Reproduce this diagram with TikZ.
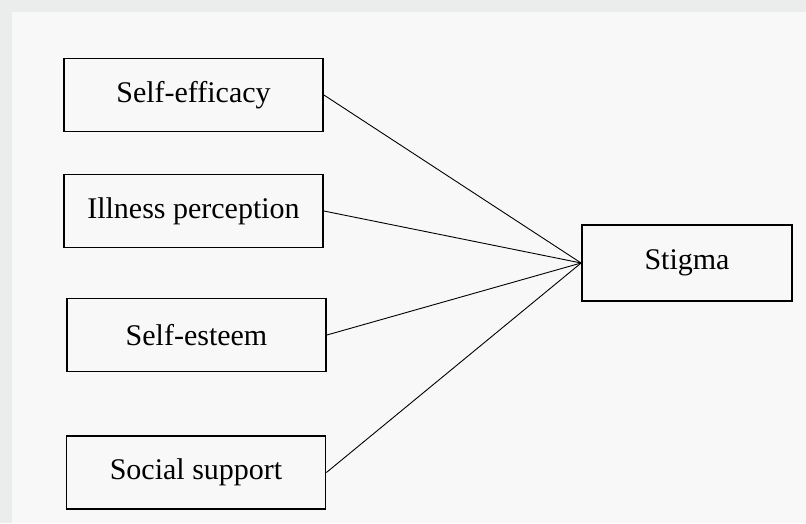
\documentclass[tikz,border=0pt]{standalone}
\usepackage{fontspec}
\setmainfont{Liberation Serif}
\definecolor{margingray}{HTML}{EBECEC}
\definecolor{panelgray}{HTML}{F8F8F8}
\begin{document}
\begin{tikzpicture}[x=1pt, y=-1pt, font=\fontsize{30}{35}\selectfont,
          varbox/.style={draw, line width=1.8pt, align=center, minimum width=259pt, minimum height=73pt, inner sep=0pt},
          outbox/.style={varbox, minimum width=210pt, minimum height=76pt},
          link/.style={line width=0.9pt}]
        \fill[margingray] (0,0) rectangle (806,523);
        \fill[panelgray] (12,12) rectangle (806,523);
        \node[varbox] (eff) at (193.5,95) {Self-efficacy};
        \node[varbox] (ill) at (193.5,211) {Illness perception};
        \node[varbox] (est) at (196.5,335) {Self-esteem};
        \node[varbox] (soc) at (196,472.5) {Social support};
        \node[outbox] (stig) at (687,263) {Stigma};
        \draw[link] (eff.east) -- (stig.west);
        \draw[link] (ill.east) -- (stig.west);
        \draw[link] (est.east) -- (stig.west);
        \draw[link] (soc.east) -- (stig.west);
      \end{tikzpicture}
\end{document}
